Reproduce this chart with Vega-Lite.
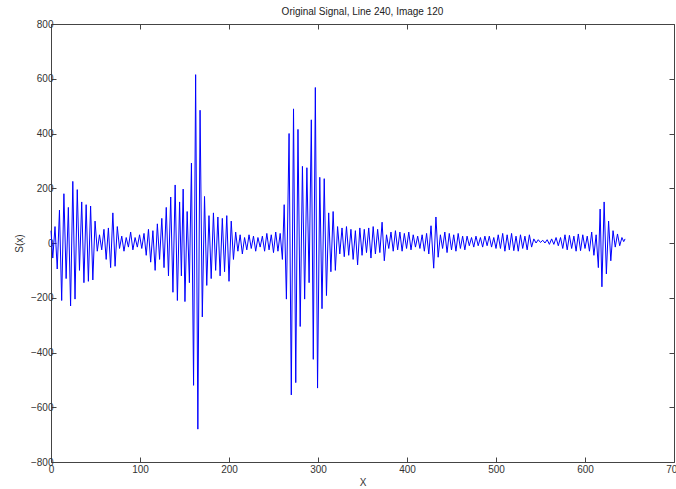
{
  "$schema": "https://vega.github.io/schema/vega-lite/v6.json",
  "width": 623,
  "height": 438,
  "autosize": "none",
  "padding": {"left": 51, "top": 24, "right": 2, "bottom": 27},
  "background": "white",
  "title": {"text": "Original Signal, Line 240, Image 120", "fontSize": 10, "fontWeight": "normal", "font": "Liberation Sans Narrow, Liberation Sans, Arial", "color": "#222", "offset": 2, "anchor": "middle"},
  "config": {
    "view": {"stroke": "#444", "strokeWidth": 1},
    "axis": {"grid": false, "domain": false, "tickColor": "#444", "tickSize": -5, "labelFont": "Liberation Sans Narrow, Liberation Sans, Arial", "labelFontSize": 10, "labelColor": "#333", "titleFont": "Liberation Sans Narrow, Liberation Sans, Arial", "titleFontSize": 10, "titleFontWeight": "normal", "titleColor": "#333"}
  },
  "data": {"values": [
    {"x":0,"s":45},{"x":2,"s":-55},{"x":4.5,"s":60},{"x":7,"s":-95},{"x":9.5,"s":120},{"x":12,"s":-210},{"x":14.5,"s":180},{"x":17,"s":-130},{"x":19.5,"s":130},{"x":22,"s":-230},{"x":24.5,"s":225},{"x":27,"s":-205},{"x":29.5,"s":195},{"x":32,"s":-100},{"x":34.5,"s":150},{"x":37,"s":-145},{"x":39.5,"s":140},{"x":42,"s":-140},{"x":44.5,"s":135},{"x":47,"s":-135},{"x":49.5,"s":80},{"x":52,"s":-30},{"x":54.5,"s":30},{"x":57,"s":-25},{"x":59.5,"s":50},{"x":62,"s":-60},{"x":64.5,"s":55},{"x":67,"s":-90},{"x":69.5,"s":110},{"x":72,"s":-85},{"x":74.5,"s":60},{"x":77,"s":-20},{"x":79.5,"s":25},{"x":82,"s":-30},{"x":84.5,"s":20},{"x":87,"s":-15},{"x":89.5,"s":40},{"x":92,"s":-25},{"x":94.5,"s":20},{"x":97,"s":-15},{"x":99.5,"s":30},{"x":102,"s":-20},{"x":104.5,"s":35},{"x":107,"s":-45},{"x":109.5,"s":50},{"x":112,"s":-70},{"x":114.5,"s":45},{"x":117,"s":-100},{"x":119.5,"s":70},{"x":122,"s":-60},{"x":124.5,"s":90},{"x":127,"s":-90},{"x":129.5,"s":130},{"x":132,"s":-120},{"x":134.5,"s":168},{"x":137,"s":-180},{"x":139.5,"s":212},{"x":142,"s":-210},{"x":144.5,"s":150},{"x":146.5,"s":-120},{"x":148.5,"s":197},{"x":150.5,"s":-214},{"x":153,"s":115},{"x":155.5,"s":-145},{"x":157.8,"s":292},{"x":160.2,"s":-520},{"x":162.5,"s":615},{"x":165,"s":-680},{"x":167.5,"s":485},{"x":170,"s":-270},{"x":172.5,"s":170},{"x":175,"s":-155},{"x":177.5,"s":100},{"x":180,"s":-130},{"x":182.5,"s":110},{"x":185,"s":-100},{"x":187.5,"s":95},{"x":190,"s":-120},{"x":192.5,"s":90},{"x":195,"s":-105},{"x":197.5,"s":100},{"x":200,"s":-140},{"x":202.5,"s":80},{"x":205,"s":-60},{"x":207.5,"s":40},{"x":210,"s":-30},{"x":212.5,"s":30},{"x":215,"s":-40},{"x":217.5,"s":20},{"x":220,"s":-25},{"x":222.5,"s":30},{"x":225,"s":-20},{"x":227.5,"s":25},{"x":230,"s":-30},{"x":232.5,"s":20},{"x":235,"s":-15},{"x":237.5,"s":25},{"x":240,"s":-30},{"x":242.5,"s":35},{"x":245,"s":-25},{"x":247.5,"s":30},{"x":250,"s":-35},{"x":252.5,"s":40},{"x":255,"s":-30},{"x":257.5,"s":35},{"x":260,"s":-60},{"x":262,"s":140},{"x":264.5,"s":-205},{"x":267.5,"s":400},{"x":270,"s":-555},{"x":272.5,"s":490},{"x":275,"s":-510},{"x":277.5,"s":415},{"x":280,"s":-305},{"x":282.5,"s":280},{"x":285,"s":-205},{"x":287.5,"s":275},{"x":290,"s":-145},{"x":292.5,"s":450},{"x":294.7,"s":-425},{"x":297,"s":568},{"x":299.5,"s":-530},{"x":302,"s":240},{"x":304.5,"s":-240},{"x":307,"s":235},{"x":309.5,"s":-192},{"x":312,"s":110},{"x":314.5,"s":-105},{"x":317,"s":115},{"x":319.5,"s":-100},{"x":322,"s":60},{"x":324.5,"s":-40},{"x":327,"s":55},{"x":329.5,"s":-50},{"x":332,"s":60},{"x":334.5,"s":-45},{"x":337,"s":50},{"x":339.5,"s":-60},{"x":342,"s":45},{"x":344.5,"s":-80},{"x":347,"s":55},{"x":349.5,"s":-45},{"x":352,"s":50},{"x":354.5,"s":-35},{"x":357,"s":55},{"x":359.5,"s":-55},{"x":362,"s":60},{"x":364.5,"s":-40},{"x":367,"s":50},{"x":369.5,"s":-35},{"x":372,"s":76},{"x":374.5,"s":-65},{"x":377,"s":30},{"x":379.5,"s":-20},{"x":382,"s":40},{"x":384.5,"s":-30},{"x":387,"s":45},{"x":389.5,"s":-25},{"x":392,"s":40},{"x":394.5,"s":-30},{"x":397,"s":35},{"x":399.5,"s":-20},{"x":402,"s":40},{"x":404.5,"s":-25},{"x":407,"s":30},{"x":409.5,"s":-15},{"x":412,"s":25},{"x":414.5,"s":-20},{"x":417,"s":30},{"x":419.5,"s":-30},{"x":422,"s":35},{"x":424.5,"s":-40},{"x":427,"s":63},{"x":430,"s":-92},{"x":432.5,"s":95},{"x":435,"s":-52},{"x":437.5,"s":30},{"x":440,"s":-20},{"x":442.5,"s":40},{"x":445,"s":-35},{"x":447.5,"s":35},{"x":450,"s":-25},{"x":452.5,"s":30},{"x":455,"s":-30},{"x":457.5,"s":35},{"x":460,"s":-20},{"x":462.5,"s":25},{"x":465,"s":-25},{"x":467.5,"s":25},{"x":470,"s":-10},{"x":472.5,"s":20},{"x":475,"s":-15},{"x":477.5,"s":25},{"x":480,"s":-10},{"x":482.5,"s":20},{"x":485,"s":-15},{"x":487.5,"s":25},{"x":490,"s":-10},{"x":492.5,"s":25},{"x":495,"s":-15},{"x":497.5,"s":20},{"x":500,"s":-20},{"x":502.5,"s":30},{"x":505,"s":-20},{"x":507.5,"s":35},{"x":510,"s":-30},{"x":512.5,"s":30},{"x":515,"s":-25},{"x":517.5,"s":35},{"x":520,"s":-28},{"x":522.5,"s":25},{"x":525,"s":-30},{"x":527.5,"s":30},{"x":530,"s":-20},{"x":532.5,"s":25},{"x":535,"s":-25},{"x":537.5,"s":30},{"x":540,"s":-15},{"x":542.5,"s":15},{"x":545,"s":0},{"x":547.5,"s":12},{"x":550,"s":2},{"x":552.5,"s":10},{"x":555,"s":0},{"x":557.5,"s":12},{"x":560,"s":-5},{"x":562.5,"s":15},{"x":565,"s":-5},{"x":567.5,"s":20},{"x":570,"s":-10},{"x":572.5,"s":20},{"x":575,"s":-20},{"x":577.5,"s":30},{"x":580,"s":-25},{"x":582.5,"s":28},{"x":585,"s":-20},{"x":587.5,"s":25},{"x":590,"s":-30},{"x":592.5,"s":33},{"x":595,"s":-28},{"x":597.5,"s":30},{"x":600,"s":-20},{"x":602.5,"s":25},{"x":605,"s":-30},{"x":607.5,"s":40},{"x":610,"s":-45},{"x":612.5,"s":30},{"x":615,"s":-90},{"x":617,"s":124},{"x":619,"s":-160},{"x":621.5,"s":150},{"x":624,"s":-113},{"x":626.5,"s":80},{"x":629,"s":-65},{"x":631.5,"s":45},{"x":634,"s":-15},{"x":636.5,"s":33},{"x":639,"s":-10},{"x":641.5,"s":20},{"x":643.5,"s":5},{"x":645,"s":15}
  ]},
  "layer": [
    {
      "mark": {"type": "line", "color": "#0000ff", "strokeWidth": 1, "interpolate": "linear"},
      "encoding": {
        "x": {"field": "x", "type": "quantitative", "scale": {"domain": [0, 700], "nice": false, "zero": false}, "axis": {"orient": "bottom", "values": [0,100,200,300,400,500,600,700], "title": "X", "titlePadding": 3, "labelPadding": 7, "labelFlush": false}},
        "y": {"field": "s", "type": "quantitative", "scale": {"domain": [-800, 800], "nice": false}, "axis": {"orient": "left", "values": [-800,-600,-400,-200,0,200,400,600,800], "title": "S(x)", "titlePadding": 6, "labelPadding": 3}}
      }
    },
    {
      "mark": {"type": "line", "opacity": 0},
      "encoding": {
        "x": {"field": "x", "type": "quantitative", "scale": {"domain": [0, 700], "nice": false, "zero": false}, "axis": {"orient": "top", "values": [0,100,200,300,400,500,600,700], "labels": false, "title": null}},
        "y": {"field": "s", "type": "quantitative", "scale": {"domain": [-800, 800], "nice": false}, "axis": {"orient": "right", "values": [-800,-600,-400,-200,0,200,400,600,800], "labels": false, "title": null}}
      }
    }
  ],
  "resolve": {"axis": {"x": "independent", "y": "independent"}}
}
